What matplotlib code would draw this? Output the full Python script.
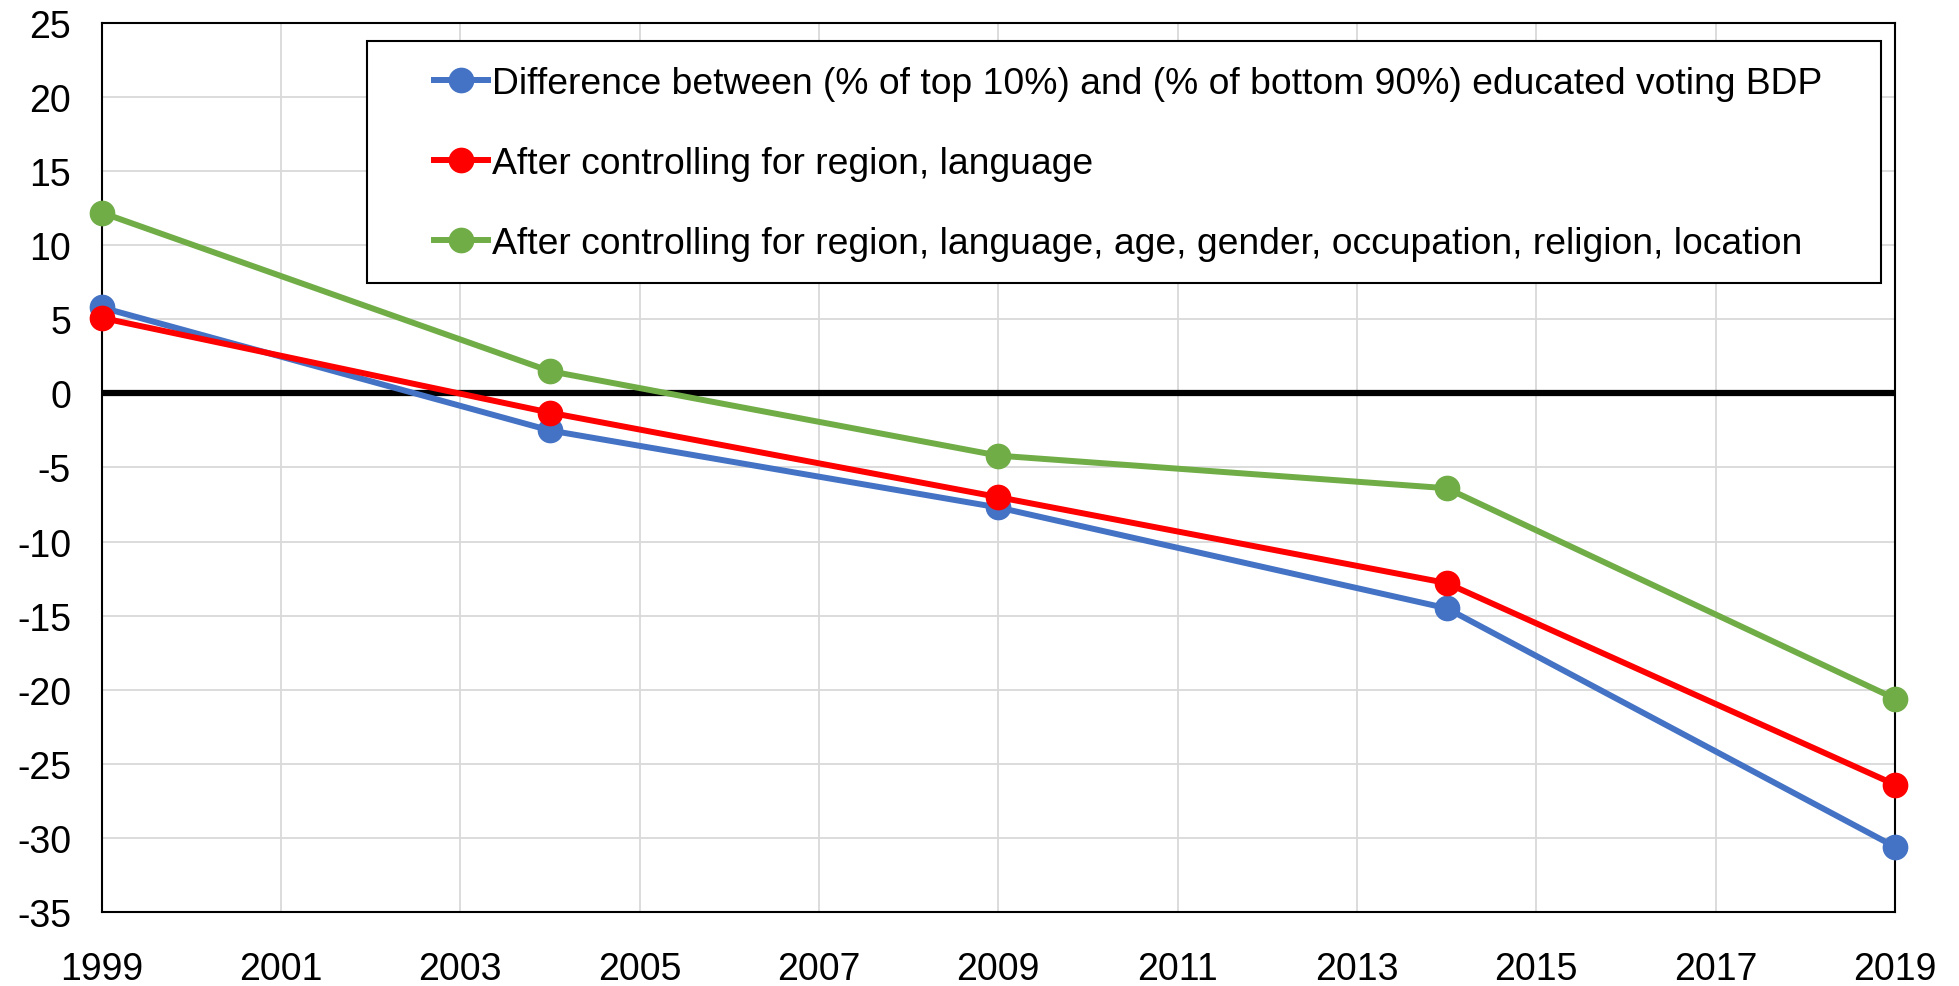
import matplotlib
matplotlib.use("Agg")
import matplotlib.pyplot as plt
from matplotlib.patches import Rectangle

plt.rcParams['font.family'] = ['Liberation Sans', 'DejaVu Sans']
plt.rcParams['axes.unicode_minus'] = False

years = [1999, 2004, 2009, 2014, 2019]
diff_raw = [5.8, -2.5, -7.7, -14.5, -30.6]
diff_region_lang = [5.1, -1.3, -7.0, -12.8, -26.4]
diff_full_controls = [12.2, 1.5, -4.2, -6.4, -20.6]

labels = [
    "Difference between (% of top 10%) and (% of bottom 90%) educated voting BDP",
    "After controlling for region, language",
    "After controlling for region, language, age, gender, occupation, religion, location",
]
colors = ["#4472C4", "#FF0000", "#70AD47"]

xticks = list(range(1999, 2020, 2))
yticks = list(range(-35, 30, 5))

fig = plt.figure(figsize=(19.59, 9.87), dpi=100)
ax = fig.add_axes([0.0519, 0.075, 0.9154, 0.9007])

ax.set_xlim(1999, 2019)
ax.set_ylim(-35, 25)
ax.set_xticks(xticks)
ax.set_yticks(yticks)
ax.tick_params(length=0, labelsize=27, colors="black")
ax.tick_params(axis="x", pad=28)
ax.tick_params(axis="y", pad=22)
ax.grid(True, color="#D9D9D9", linewidth=1.3)
ax.set_axisbelow(True)
for s in ax.spines.values():
    s.set_color("black")
    s.set_linewidth(1.5)

ax.axhline(0, color="black", linewidth=4.5, zorder=2)

handles = []
for series, col, lab in zip([diff_raw, diff_region_lang, diff_full_controls], colors, labels):
    h, = ax.plot(years, series, color=col, linewidth=4.3, marker="o",
                 markersize=17.5, markeredgecolor=col, label=lab, zorder=3,
                 clip_on=False)
    handles.append(h)

leg = ax.legend(handles=handles, loc="upper left",
                bbox_to_anchor=(0.1853, 0.952), frameon=False,
                fontsize=26.8, borderpad=0, labelspacing=1.22,
                handlelength=1.45, handletextpad=0.12, borderaxespad=0)
leg.set_zorder(5)

# frame around the key
ax.add_patch(Rectangle((0.148, 0.7075), 0.844, 0.2725, transform=ax.transAxes,
                       facecolor="white", edgecolor="black", linewidth=1.5,
                       zorder=4))

fig.savefig("out.png", dpi=100)
